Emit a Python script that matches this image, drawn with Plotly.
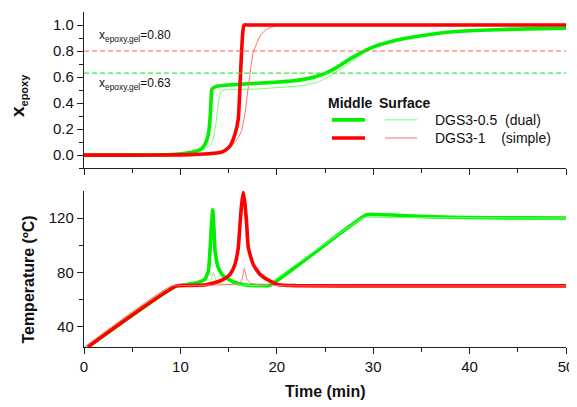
import plotly.graph_objects as go
from plotly.subplots import make_subplots

# ---------------- data ----------------
# Conversion (top panel)
t_conv_mid_dual = [0, 5, 9, 10, 11, 11.7, 12.2, 12.55, 12.9, 13.07, 13.18, 13.26, 13.5, 13.9, 15, 16.1, 18, 20.2, 21.5, 22.75, 24, 25.2, 26.2, 27.25, 28.3, 29.3, 30.3, 31.4, 33, 34.85, 38, 42, 46, 50]
x_conv_mid_dual = [0, 0, 0.004, 0.01, 0.02, 0.031, 0.05, 0.082, 0.159, 0.274, 0.42, 0.505, 0.52, 0.531, 0.539, 0.544, 0.552, 0.562, 0.569, 0.582, 0.603, 0.634, 0.672, 0.723, 0.768, 0.808, 0.84, 0.864, 0.893, 0.916, 0.946, 0.962, 0.97, 0.975]

t_conv_surf_dual = [0, 5, 9, 10, 11, 11.8, 12.5, 13.07, 13.35, 13.6, 13.9, 14.1, 14.3, 14.8, 16, 18, 19.3, 21, 22.75, 24.2, 25.5, 26.5, 27.6, 28.6, 29.6, 30.6, 32, 34, 37, 41, 45, 50]
x_conv_surf_dual = [0, 0, 0.004, 0.01, 0.02, 0.032, 0.048, 0.075, 0.11, 0.198, 0.377, 0.465, 0.495, 0.503, 0.505, 0.508, 0.515, 0.524, 0.536, 0.56, 0.608, 0.655, 0.71, 0.76, 0.808, 0.84, 0.875, 0.906, 0.938, 0.958, 0.967, 0.972]

t_conv_mid_simple = [0, 5, 10, 12, 13, 14.1, 14.7, 15.15, 15.66, 16.0, 16.18, 16.35, 16.48, 16.6, 17, 20, 30, 40, 50]
x_conv_mid_simple = [0, 0, 0.002, 0.006, 0.011, 0.02, 0.04, 0.07, 0.16, 0.275, 0.53, 0.8, 0.95, 1.0, 1.0, 1.0, 1.0, 1.0, 1.0]

t_conv_surf_simple = [0, 5, 10, 12, 13, 14.1, 14.7, 15.15, 15.66, 16.0, 16.35, 16.7, 17.05, 17.56, 18.26, 18.8, 19.3, 20.2, 21, 30, 50]
x_conv_surf_simple = [0, 0, 0.002, 0.006, 0.011, 0.02, 0.035, 0.06, 0.1, 0.135, 0.19, 0.32, 0.53, 0.79, 0.915, 0.96, 0.98, 0.997, 1.0, 1.0, 1.0]

gel_dual = 0.63
gel_simple = 0.80

# Temperature (bottom panel)
t_temp_mid_dual = [0.4, 9.6, 10.3, 11.0, 11.7, 12.2, 12.55, 12.9, 13.07, 13.2, 13.35, 13.48, 13.6, 13.93, 14.45, 15.5, 16.9, 18.5, 19.3, 29.3, 30.2, 32, 34.9, 38, 42, 46, 50]
T_temp_mid_dual = [25, 70, 70.4, 71.5, 72.4, 73.5, 74.9, 81, 95.6, 112, 126.1, 112, 95.6, 83.4, 77.3, 72.9, 70.5, 70.2, 70.5, 122.4, 122.6, 122.2, 121.2, 120.6, 120.2, 120.1, 120]

t_temp_surf_dual = [0.05, 9.1, 10, 11, 12, 12.8, 13.1, 13.42, 13.75, 14.2, 15, 16, 17, 18.2, 18.8, 29.0, 29.6, 35, 40, 50]
T_temp_surf_dual = [25, 70, 70.3, 70.6, 71, 71.5, 73, 79.8, 73, 71.5, 71, 70.7, 70.4, 70.2, 70.5, 120.4, 120.4, 120.3, 120.2, 120]

t_temp_mid_simple = [0.4, 9.6, 11, 12.7, 14.1, 14.7, 15.15, 15.66, 16.0, 16.18, 16.35, 16.53, 16.7, 16.88, 17.05, 17.56, 18.26, 19.3, 20.2, 22, 30, 40, 50]
T_temp_mid_simple = [25, 70, 70.3, 70.9, 73.6, 75.8, 78.5, 85.8, 98, 115, 130, 139, 130, 115, 98, 85.8, 78.5, 73.6, 70.9, 70.2, 70, 70, 70]

t_temp_surf_simple = [0.05, 9.1, 11, 13, 14.5, 15.5, 16.1, 16.4, 16.63, 16.9, 17.3, 18, 19, 21, 30, 50]
T_temp_surf_simple = [25, 70, 70.2, 70.5, 70.8, 71.2, 72, 75, 83, 75, 72, 71, 70.5, 70.1, 70, 70]

x_ticks = [0, 10, 20, 30, 40, 50]
conv_ticks = [0.0, 0.2, 0.4, 0.6, 0.8, 1.0]
temp_ticks = [40, 80, 120]

# ---------------- styles ----------------
GREEN = "#00f000"
GREEN_T = "#70ff70"
RED = "#ff0000"
RED_T = "#ff7070"
W_THICK = 3.6
W_THIN = 1.0
FONT = "Liberation Sans, Arial, sans-serif"

fig = make_subplots(rows=2, cols=1, shared_xaxes=False, vertical_spacing=0.0)

def add(t, v, color, width, row):
    fig.add_trace(go.Scatter(x=t, y=v, mode="lines",
                             line=dict(color=color, width=width, shape="spline", smoothing=0.5),
                             showlegend=False, hoverinfo="skip"), row=row, col=1)

# top
add(t_conv_surf_dual, x_conv_surf_dual, GREEN_T, W_THIN, 1)
add(t_conv_mid_dual, x_conv_mid_dual, GREEN, W_THICK, 1)
add(t_conv_surf_simple, x_conv_surf_simple, RED_T, W_THIN, 1)
add(t_conv_mid_simple, x_conv_mid_simple, RED, W_THICK, 1)
# gel lines
fig.add_trace(go.Scatter(x=[0, 50], y=[gel_simple, gel_simple], mode="lines",
                         line=dict(color="#ff5555", width=1, dash="5px,3px"),
                         showlegend=False, hoverinfo="skip"), row=1, col=1)
fig.add_trace(go.Scatter(x=[0, 50], y=[gel_dual, gel_dual], mode="lines",
                         line=dict(color="#33ee33", width=1.3, dash="5px,3px"),
                         showlegend=False, hoverinfo="skip"), row=1, col=1)

# bottom
add(t_temp_mid_dual, T_temp_mid_dual, GREEN, W_THICK, 2)
add(t_temp_surf_dual, T_temp_surf_dual, GREEN_T, W_THIN, 2)
add(t_temp_mid_simple, T_temp_mid_simple, RED, W_THICK, 2)
add(t_temp_surf_simple, T_temp_surf_simple, RED_T, W_THIN, 2)

axis_common = dict(showline=True, linecolor="#222", linewidth=1.4, ticks="outside",
                   ticklen=6, tickwidth=1.3, tickcolor="#222", showgrid=False, zeroline=False,
                   tickfont=dict(family=FONT, size=15, color="#111"))

fig.update_xaxes(**axis_common, range=[0, 50], tickvals=x_ticks,
                 minor=dict(tickvals=[5, 15, 25, 35, 45], ticklen=4, tickwidth=1.2, tickcolor="#222", ticks="outside"))
fig.update_xaxes(showticklabels=False, row=1, col=1)
fig.update_yaxes(**axis_common)
fig.update_yaxes(range=[-0.1, 1.1], tickvals=conv_ticks, tickformat=".1f",
                 minor=dict(tickvals=[-0.1, 0.1, 0.3, 0.5, 0.7, 0.9], ticklen=4, tickwidth=1.2, tickcolor="#222", ticks="outside"),
                 row=1, col=1)
fig.update_yaxes(range=[25, 140], tickvals=temp_ticks,
                 minor=dict(tickvals=[60, 100], ticklen=4, tickwidth=1.2, tickcolor="#222", ticks="outside"),
                 row=2, col=1)

# page body has an 8px margin, so the figure is 8px smaller and margins reduced accordingly
fig.update_layout(
    width=569, height=399,
    margin=dict(l=76, r=11, t=4, b=60, autoexpand=False),
    paper_bgcolor="white", plot_bgcolor="white",
    font=dict(family=FONT, color="#111"),
    showlegend=False,
)
fig.layout.yaxis.domain = [0.534, 1.0]
fig.layout.yaxis2.domain = [0.0, 0.466]

def A(text, x, y, size, xanchor="center", xref="paper", yref="paper", angle=0):
    return dict(text=text, xref=xref, yref=yref, x=x, y=y, xanchor=xanchor, yanchor="middle",
                textangle=angle, showarrow=False, font=dict(size=size, family=FONT, color="#111"))

ann = [
    A("<b>x<sub><span style='font-size:11px'>epoxy</span></sub></b>", -0.137, 0.752, 19, angle=-90),
    A("<b>Temperature (ºC)</b>", -0.117, 0.2, 16, angle=-90),
    A("<b>Time (min)</b>", 0.5, -0.134, 16),
    A("x<sub>epoxy,gel</sub>=0.80", 1.3, 0.915, 12, xanchor="left", xref="x", yref="y"),
    A("x<sub>epoxy,gel</sub>=0.63", 1.3, 0.545, 12, xanchor="left", xref="x", yref="y"),
    A("<b>Middle</b>", 0.552, 0.728, 14),
    A("<b>Surface</b>", 0.666, 0.728, 14),
    A("DGS3-0.5&nbsp;&nbsp;(dual)", 0.724, 0.678, 14, xanchor="left"),
    A("DGS3-1&nbsp;&nbsp;&nbsp;&nbsp;(simple)", 0.724, 0.624, 14, xanchor="left"),
]
fig.update_layout(annotations=ann)

shapes = [
    dict(type="line", xref="paper", yref="paper", x0=0.5145, x1=0.583, y0=0.678, y1=0.678,
         line=dict(color=GREEN, width=W_THICK)),
    dict(type="line", xref="paper", yref="paper", x0=0.6245, x1=0.691, y0=0.678, y1=0.678,
         line=dict(color=GREEN_T, width=W_THIN)),
    dict(type="line", xref="paper", yref="paper", x0=0.5145, x1=0.583, y0=0.624, y1=0.624,
         line=dict(color=RED, width=W_THICK)),
    dict(type="line", xref="paper", yref="paper", x0=0.6245, x1=0.691, y0=0.624, y1=0.624,
         line=dict(color=RED_T, width=W_THIN)),
]
fig.update_layout(shapes=shapes)

fig.write_html("out.html")
